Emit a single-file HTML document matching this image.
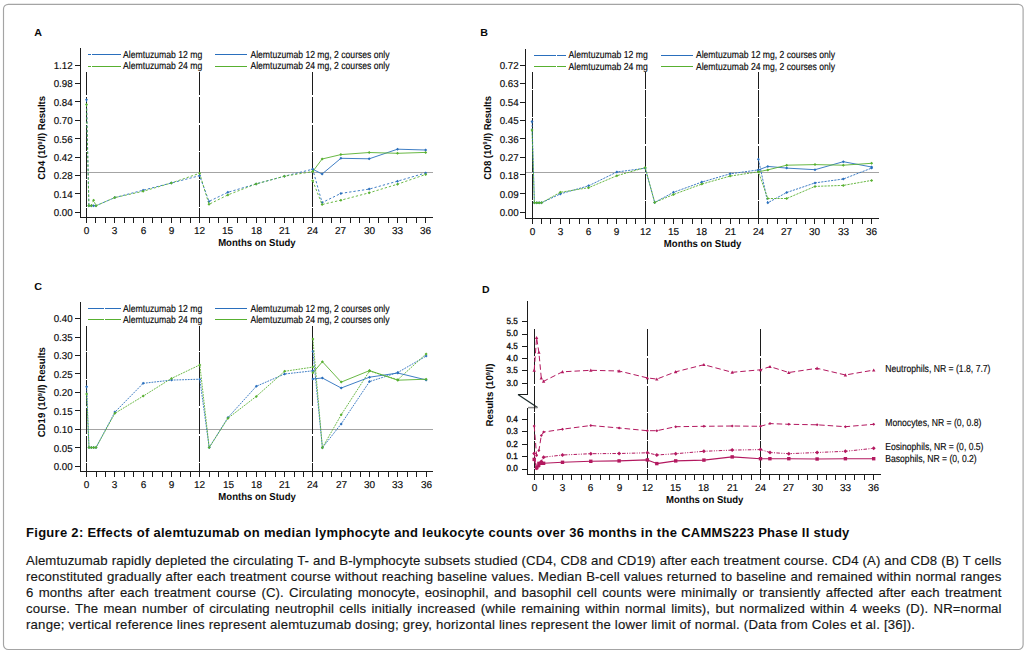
<!DOCTYPE html>
<html><head><meta charset="utf-8"><title>Figure 2</title>
<style>
html,body{margin:0;padding:0;background:#fff;}
body{width:1028px;height:652px;position:relative;overflow:hidden;font-family:"Liberation Sans",sans-serif;}
svg{position:absolute;left:0;top:0;}
#title{position:absolute;left:26px;top:524.5px;font-size:13px;line-height:16px;font-weight:bold;color:#0a0a0a;white-space:nowrap;letter-spacing:0.29px;}
#cap{position:absolute;left:26px;top:552.8px;-webkit-text-stroke:0.15px #161616;width:975.5px;font-size:13.2px;line-height:16.05px;color:#161616;}
#cap .l{text-align:justify;text-align-last:justify;height:16.05px;letter-spacing:0.1px;}
#cap .last{text-align-last:left;letter-spacing:0.19px;white-space:nowrap;}
</style></head><body>
<svg width="1028" height="652" viewBox="0 0 1028 652" text-rendering="geometricPrecision">
<style>text{stroke:#0a0a0a;stroke-width:0.16px;}text[font-weight="bold"]{stroke:none;}</style>
<rect x="3.5" y="4.3" width="1019.6" height="645.2" rx="4.8" ry="4.8" fill="none" stroke="#a4a4a4" stroke-width="1.15"/>
<g transform="translate(0,0)">
<text transform="translate(34.2,36) scale(1.05,1)" font-family="Liberation Sans, sans-serif" font-weight="bold" font-size="10.2" fill="#0a0a0a">A</text>
<path d="M80.5 48 V217.5 H433" fill="none" stroke="#1c1c1c" stroke-width="1" shape-rendering="crispEdges"/>
<path d="M75.0 212.5 H80.0 " stroke="#1c1c1c" stroke-width="1" shape-rendering="crispEdges"/>
<text x="72.7" y="216" text-anchor="end" font-family="Liberation Sans, sans-serif" font-size="10" textLength="19.0" lengthAdjust="spacingAndGlyphs" fill="#0a0a0a">0.00</text>
<path d="M75.0 193.5 H80.0 " stroke="#1c1c1c" stroke-width="1" shape-rendering="crispEdges"/>
<text x="72.7" y="198" text-anchor="end" font-family="Liberation Sans, sans-serif" font-size="10" textLength="19.0" lengthAdjust="spacingAndGlyphs" fill="#0a0a0a">0.14</text>
<path d="M75.0 175.5 H80.0 " stroke="#1c1c1c" stroke-width="1" shape-rendering="crispEdges"/>
<text x="72.7" y="179" text-anchor="end" font-family="Liberation Sans, sans-serif" font-size="10" textLength="19.0" lengthAdjust="spacingAndGlyphs" fill="#0a0a0a">0.28</text>
<path d="M75.0 157.5 H80.0 " stroke="#1c1c1c" stroke-width="1" shape-rendering="crispEdges"/>
<text x="72.7" y="161" text-anchor="end" font-family="Liberation Sans, sans-serif" font-size="10" textLength="19.0" lengthAdjust="spacingAndGlyphs" fill="#0a0a0a">0.42</text>
<path d="M75.0 138.5 H80.0 " stroke="#1c1c1c" stroke-width="1" shape-rendering="crispEdges"/>
<text x="72.7" y="143" text-anchor="end" font-family="Liberation Sans, sans-serif" font-size="10" textLength="19.0" lengthAdjust="spacingAndGlyphs" fill="#0a0a0a">0.56</text>
<path d="M75.0 120.5 H80.0 " stroke="#1c1c1c" stroke-width="1" shape-rendering="crispEdges"/>
<text x="72.7" y="124" text-anchor="end" font-family="Liberation Sans, sans-serif" font-size="10" textLength="19.0" lengthAdjust="spacingAndGlyphs" fill="#0a0a0a">0.70</text>
<path d="M75.0 101.5 H80.0 " stroke="#1c1c1c" stroke-width="1" shape-rendering="crispEdges"/>
<text x="72.7" y="106" text-anchor="end" font-family="Liberation Sans, sans-serif" font-size="10" textLength="19.0" lengthAdjust="spacingAndGlyphs" fill="#0a0a0a">0.84</text>
<path d="M75.0 83.5 H80.0 " stroke="#1c1c1c" stroke-width="1" shape-rendering="crispEdges"/>
<text x="72.7" y="87" text-anchor="end" font-family="Liberation Sans, sans-serif" font-size="10" textLength="19.0" lengthAdjust="spacingAndGlyphs" fill="#0a0a0a">0.98</text>
<path d="M75.0 65.5 H80.0 " stroke="#1c1c1c" stroke-width="1" shape-rendering="crispEdges"/>
<text x="72.7" y="69" text-anchor="end" font-family="Liberation Sans, sans-serif" font-size="10" textLength="19.0" lengthAdjust="spacingAndGlyphs" fill="#0a0a0a">1.12</text>
<path d="M86.5 218.0 V223.0" stroke="#1c1c1c" stroke-width="1" shape-rendering="crispEdges"/>
<text x="86.6" y="234" text-anchor="middle" font-family="Liberation Sans, sans-serif" font-size="10" fill="#0a0a0a">0</text>
<path d="M95.5 218.0 V223.0" stroke="#1c1c1c" stroke-width="1" shape-rendering="crispEdges"/>
<path d="M105.5 218.0 V223.0" stroke="#1c1c1c" stroke-width="1" shape-rendering="crispEdges"/>
<path d="M114.5 218.0 V223.0" stroke="#1c1c1c" stroke-width="1" shape-rendering="crispEdges"/>
<text x="114.6" y="234" text-anchor="middle" font-family="Liberation Sans, sans-serif" font-size="10" fill="#0a0a0a">3</text>
<path d="M124.5 218.0 V223.0" stroke="#1c1c1c" stroke-width="1" shape-rendering="crispEdges"/>
<path d="M133.5 218.0 V223.0" stroke="#1c1c1c" stroke-width="1" shape-rendering="crispEdges"/>
<path d="M143.5 218.0 V223.0" stroke="#1c1c1c" stroke-width="1" shape-rendering="crispEdges"/>
<text x="143.6" y="234" text-anchor="middle" font-family="Liberation Sans, sans-serif" font-size="10" fill="#0a0a0a">6</text>
<path d="M152.5 218.0 V223.0" stroke="#1c1c1c" stroke-width="1" shape-rendering="crispEdges"/>
<path d="M161.5 218.0 V223.0" stroke="#1c1c1c" stroke-width="1" shape-rendering="crispEdges"/>
<path d="M171.5 218.0 V223.0" stroke="#1c1c1c" stroke-width="1" shape-rendering="crispEdges"/>
<text x="171.6" y="234" text-anchor="middle" font-family="Liberation Sans, sans-serif" font-size="10" fill="#0a0a0a">9</text>
<path d="M180.5 218.0 V223.0" stroke="#1c1c1c" stroke-width="1" shape-rendering="crispEdges"/>
<path d="M190.5 218.0 V223.0" stroke="#1c1c1c" stroke-width="1" shape-rendering="crispEdges"/>
<path d="M199.5 218.0 V223.0" stroke="#1c1c1c" stroke-width="1" shape-rendering="crispEdges"/>
<text x="199.6" y="234" text-anchor="middle" font-family="Liberation Sans, sans-serif" font-size="10" fill="#0a0a0a">12</text>
<path d="M209.5 218.0 V223.0" stroke="#1c1c1c" stroke-width="1" shape-rendering="crispEdges"/>
<path d="M218.5 218.0 V223.0" stroke="#1c1c1c" stroke-width="1" shape-rendering="crispEdges"/>
<path d="M227.5 218.0 V223.0" stroke="#1c1c1c" stroke-width="1" shape-rendering="crispEdges"/>
<text x="227.6" y="234" text-anchor="middle" font-family="Liberation Sans, sans-serif" font-size="10" fill="#0a0a0a">15</text>
<path d="M237.5 218.0 V223.0" stroke="#1c1c1c" stroke-width="1" shape-rendering="crispEdges"/>
<path d="M246.5 218.0 V223.0" stroke="#1c1c1c" stroke-width="1" shape-rendering="crispEdges"/>
<path d="M256.5 218.0 V223.0" stroke="#1c1c1c" stroke-width="1" shape-rendering="crispEdges"/>
<text x="256.6" y="234" text-anchor="middle" font-family="Liberation Sans, sans-serif" font-size="10" fill="#0a0a0a">18</text>
<path d="M265.5 218.0 V223.0" stroke="#1c1c1c" stroke-width="1" shape-rendering="crispEdges"/>
<path d="M274.5 218.0 V223.0" stroke="#1c1c1c" stroke-width="1" shape-rendering="crispEdges"/>
<path d="M284.5 218.0 V223.0" stroke="#1c1c1c" stroke-width="1" shape-rendering="crispEdges"/>
<text x="284.6" y="234" text-anchor="middle" font-family="Liberation Sans, sans-serif" font-size="10" fill="#0a0a0a">21</text>
<path d="M293.5 218.0 V223.0" stroke="#1c1c1c" stroke-width="1" shape-rendering="crispEdges"/>
<path d="M303.5 218.0 V223.0" stroke="#1c1c1c" stroke-width="1" shape-rendering="crispEdges"/>
<path d="M312.5 218.0 V223.0" stroke="#1c1c1c" stroke-width="1" shape-rendering="crispEdges"/>
<text x="312.6" y="234" text-anchor="middle" font-family="Liberation Sans, sans-serif" font-size="10" fill="#0a0a0a">24</text>
<path d="M322.5 218.0 V223.0" stroke="#1c1c1c" stroke-width="1" shape-rendering="crispEdges"/>
<path d="M331.5 218.0 V223.0" stroke="#1c1c1c" stroke-width="1" shape-rendering="crispEdges"/>
<path d="M340.5 218.0 V223.0" stroke="#1c1c1c" stroke-width="1" shape-rendering="crispEdges"/>
<text x="340.6" y="234" text-anchor="middle" font-family="Liberation Sans, sans-serif" font-size="10" fill="#0a0a0a">27</text>
<path d="M350.5 218.0 V223.0" stroke="#1c1c1c" stroke-width="1" shape-rendering="crispEdges"/>
<path d="M359.5 218.0 V223.0" stroke="#1c1c1c" stroke-width="1" shape-rendering="crispEdges"/>
<path d="M369.5 218.0 V223.0" stroke="#1c1c1c" stroke-width="1" shape-rendering="crispEdges"/>
<text x="369.6" y="234" text-anchor="middle" font-family="Liberation Sans, sans-serif" font-size="10" fill="#0a0a0a">30</text>
<path d="M378.5 218.0 V223.0" stroke="#1c1c1c" stroke-width="1" shape-rendering="crispEdges"/>
<path d="M388.5 218.0 V223.0" stroke="#1c1c1c" stroke-width="1" shape-rendering="crispEdges"/>
<path d="M397.5 218.0 V223.0" stroke="#1c1c1c" stroke-width="1" shape-rendering="crispEdges"/>
<text x="397.6" y="234" text-anchor="middle" font-family="Liberation Sans, sans-serif" font-size="10" fill="#0a0a0a">33</text>
<path d="M406.5 218.0 V223.0" stroke="#1c1c1c" stroke-width="1" shape-rendering="crispEdges"/>
<path d="M416.5 218.0 V223.0" stroke="#1c1c1c" stroke-width="1" shape-rendering="crispEdges"/>
<path d="M425.5 218.0 V223.0" stroke="#1c1c1c" stroke-width="1" shape-rendering="crispEdges"/>
<text x="425.6" y="234" text-anchor="middle" font-family="Liberation Sans, sans-serif" font-size="10" fill="#0a0a0a">36</text>
<text x="256.9" y="246" text-anchor="middle" font-family="Liberation Sans, sans-serif" font-weight="bold" font-size="10.2" textLength="77.5" lengthAdjust="spacingAndGlyphs" fill="#0a0a0a">Months on Study</text>
<text transform="translate(45.4,137.9) rotate(-90) scale(0.9493,1)" text-anchor="middle" font-family="Liberation Sans, sans-serif" font-weight="bold" font-size="10" fill="#0a0a0a">CD4 (10<tspan font-size="5.8" dy="-3.5">9</tspan><tspan dy="3.5">/l) Results</tspan></text>
<path d="M81.0 172.5 H433" stroke="#a4a4a4" stroke-width="1" shape-rendering="crispEdges"/>
<path d="M86.5 72 V217.5" stroke="#1c1c1c" stroke-width="1" stroke-dasharray="26.4 1.4" stroke-dashoffset="3.0" shape-rendering="crispEdges"/>
<path d="M199.5 72 V217.5" stroke="#1c1c1c" stroke-width="1" stroke-dasharray="26.4 1.4" stroke-dashoffset="3.0" shape-rendering="crispEdges"/>
<path d="M312.5 72 V217.5" stroke="#1c1c1c" stroke-width="1" stroke-dasharray="26.4 1.4" stroke-dashoffset="3.0" shape-rendering="crispEdges"/>
<polyline points="86.5,99.7 88.9,205.7 91.3,205.7 93.6,205.7 96.0,205.7 114.8,197.6 143.1,190.2 171.3,183.0 199.6,175.7 209.0,201.4 227.9,192.3 256.1,183.9 284.4,176.2 312.7,169.2 322.1,202.6 340.9,193.4 369.2,189.1 397.5,181.2 425.7,172.9" fill="none" stroke="#2a6fbd" stroke-width="0.9" stroke-dasharray="2.3 2.0" stroke-linejoin="round"/><path d="M86.5 98.2 L88.0 99.7 L86.5 101.2 L85.0 99.7Z" fill="#2a6fbd"/><path d="M88.9 204.2 L90.4 205.7 L88.9 207.2 L87.4 205.7Z" fill="#2a6fbd"/><path d="M91.3 204.2 L92.8 205.7 L91.3 207.2 L89.8 205.7Z" fill="#2a6fbd"/><path d="M93.6 204.2 L95.1 205.7 L93.6 207.2 L92.1 205.7Z" fill="#2a6fbd"/><path d="M96.0 204.2 L97.5 205.7 L96.0 207.2 L94.5 205.7Z" fill="#2a6fbd"/><path d="M114.8 196.1 L116.3 197.6 L114.8 199.1 L113.3 197.6Z" fill="#2a6fbd"/><path d="M143.1 188.7 L144.6 190.2 L143.1 191.7 L141.6 190.2Z" fill="#2a6fbd"/><path d="M171.3 181.5 L172.8 183.0 L171.3 184.5 L169.8 183.0Z" fill="#2a6fbd"/><path d="M199.6 174.2 L201.1 175.7 L199.6 177.2 L198.1 175.7Z" fill="#2a6fbd"/><path d="M209.0 199.9 L210.5 201.4 L209.0 202.9 L207.5 201.4Z" fill="#2a6fbd"/><path d="M227.9 190.8 L229.4 192.3 L227.9 193.8 L226.4 192.3Z" fill="#2a6fbd"/><path d="M256.1 182.4 L257.6 183.9 L256.1 185.4 L254.6 183.9Z" fill="#2a6fbd"/><path d="M284.4 174.7 L285.9 176.2 L284.4 177.7 L282.9 176.2Z" fill="#2a6fbd"/><path d="M312.7 167.7 L314.2 169.2 L312.7 170.7 L311.2 169.2Z" fill="#2a6fbd"/><path d="M322.1 201.1 L323.6 202.6 L322.1 204.1 L320.6 202.6Z" fill="#2a6fbd"/><path d="M340.9 191.9 L342.4 193.4 L340.9 194.9 L339.4 193.4Z" fill="#2a6fbd"/><path d="M369.2 187.6 L370.7 189.1 L369.2 190.6 L367.7 189.1Z" fill="#2a6fbd"/><path d="M397.5 179.7 L399.0 181.2 L397.5 182.7 L396.0 181.2Z" fill="#2a6fbd"/><path d="M425.7 171.4 L427.2 172.9 L425.7 174.4 L424.2 172.9Z" fill="#2a6fbd"/>
<polyline points="86.5,104.5 88.9,205.7 91.3,205.7 93.6,200.2 96.0,205.7 114.8,197.6 143.1,191.3 171.3,183.0 199.6,173.3 209.0,204.3 227.9,194.9 256.1,183.9 284.4,176.2 312.7,171.6" fill="none" stroke="#58b030" stroke-width="0.9" stroke-dasharray="2.3 2.0" stroke-linejoin="round"/><path d="M86.5 103.0 L88.0 104.5 L86.5 106.0 L85.0 104.5Z" fill="#58b030"/><path d="M88.9 204.2 L90.4 205.7 L88.9 207.2 L87.4 205.7Z" fill="#58b030"/><path d="M91.3 204.2 L92.8 205.7 L91.3 207.2 L89.8 205.7Z" fill="#58b030"/><path d="M93.6 198.7 L95.1 200.2 L93.6 201.7 L92.1 200.2Z" fill="#58b030"/><path d="M96.0 204.2 L97.5 205.7 L96.0 207.2 L94.5 205.7Z" fill="#58b030"/><path d="M114.8 196.1 L116.3 197.6 L114.8 199.1 L113.3 197.6Z" fill="#58b030"/><path d="M143.1 189.8 L144.6 191.3 L143.1 192.8 L141.6 191.3Z" fill="#58b030"/><path d="M171.3 181.5 L172.8 183.0 L171.3 184.5 L169.8 183.0Z" fill="#58b030"/><path d="M199.6 171.8 L201.1 173.3 L199.6 174.8 L198.1 173.3Z" fill="#58b030"/><path d="M209.0 202.8 L210.5 204.3 L209.0 205.8 L207.5 204.3Z" fill="#58b030"/><path d="M227.9 193.4 L229.4 194.9 L227.9 196.4 L226.4 194.9Z" fill="#58b030"/><path d="M256.1 182.4 L257.6 183.9 L256.1 185.4 L254.6 183.9Z" fill="#58b030"/><path d="M284.4 174.7 L285.9 176.2 L284.4 177.7 L282.9 176.2Z" fill="#58b030"/><path d="M312.7 170.1 L314.2 171.6 L312.7 173.1 L311.2 171.6Z" fill="#58b030"/>
<polyline points="312.7,180.8 322.1,204.5 340.9,200.2 369.2,192.8 397.5,184.2 425.7,174.4" fill="none" stroke="#58b030" stroke-width="0.9" stroke-dasharray="2.3 2.0" stroke-linejoin="round"/><path d="M312.7 179.3 L314.2 180.8 L312.7 182.3 L311.2 180.8Z" fill="#58b030"/><path d="M322.1 203.0 L323.6 204.5 L322.1 206.0 L320.6 204.5Z" fill="#58b030"/><path d="M340.9 198.7 L342.4 200.2 L340.9 201.7 L339.4 200.2Z" fill="#58b030"/><path d="M369.2 191.3 L370.7 192.8 L369.2 194.3 L367.7 192.8Z" fill="#58b030"/><path d="M397.5 182.7 L399.0 184.2 L397.5 185.7 L396.0 184.2Z" fill="#58b030"/><path d="M425.7 172.9 L427.2 174.4 L425.7 175.9 L424.2 174.4Z" fill="#58b030"/>
<polyline points="312.7,169.2 322.1,174.0 340.9,158.3 369.2,158.8 397.5,149.2 425.7,150.0" fill="none" stroke="#2a6fbd" stroke-width="0.9" stroke-linejoin="round"/><path d="M312.7 167.7 L314.2 169.2 L312.7 170.7 L311.2 169.2Z" fill="#2a6fbd"/><path d="M322.1 172.5 L323.6 174.0 L322.1 175.5 L320.6 174.0Z" fill="#2a6fbd"/><path d="M340.9 156.8 L342.4 158.3 L340.9 159.8 L339.4 158.3Z" fill="#2a6fbd"/><path d="M369.2 157.3 L370.7 158.8 L369.2 160.3 L367.7 158.8Z" fill="#2a6fbd"/><path d="M397.5 147.7 L399.0 149.2 L397.5 150.7 L396.0 149.2Z" fill="#2a6fbd"/><path d="M425.7 148.5 L427.2 150.0 L425.7 151.5 L424.2 150.0Z" fill="#2a6fbd"/>
<polyline points="312.7,171.6 322.1,159.0 340.9,154.6 369.2,152.5 397.5,153.3 425.7,152.4" fill="none" stroke="#58b030" stroke-width="0.9" stroke-linejoin="round"/><path d="M312.7 170.1 L314.2 171.6 L312.7 173.1 L311.2 171.6Z" fill="#58b030"/><path d="M322.1 157.5 L323.6 159.0 L322.1 160.5 L320.6 159.0Z" fill="#58b030"/><path d="M340.9 153.1 L342.4 154.6 L340.9 156.1 L339.4 154.6Z" fill="#58b030"/><path d="M369.2 151.0 L370.7 152.5 L369.2 154.0 L367.7 152.5Z" fill="#58b030"/><path d="M397.5 151.8 L399.0 153.3 L397.5 154.8 L396.0 153.3Z" fill="#58b030"/><path d="M425.7 150.9 L427.2 152.4 L425.7 153.9 L424.2 152.4Z" fill="#58b030"/>
<path d="M88 54.5 H91 M92 54.5 H121" stroke="#2a6fbd" stroke-width="1" shape-rendering="crispEdges"/>
<text x="123.1" y="58" font-family="Liberation Sans, sans-serif" font-size="10.2" textLength="79.2" lengthAdjust="spacingAndGlyphs" fill="#0a0a0a">Alemtuzumab 12 mg</text>
<path d="M215 54.5 H247" stroke="#2a6fbd" stroke-width="1" shape-rendering="crispEdges"/>
<text x="250.4" y="58" font-family="Liberation Sans, sans-serif" font-size="10.2" textLength="139.2" lengthAdjust="spacingAndGlyphs" fill="#0a0a0a">Alemtuzumab 12 mg, 2 courses only</text>
<path d="M88 66.5 H91 M92 66.5 H121" stroke="#58b030" stroke-width="1" shape-rendering="crispEdges"/>
<text x="123.1" y="69" font-family="Liberation Sans, sans-serif" font-size="10.2" textLength="79.2" lengthAdjust="spacingAndGlyphs" fill="#0a0a0a">Alemtuzumab 24 mg</text>
<path d="M215 66.5 H247" stroke="#58b030" stroke-width="1" shape-rendering="crispEdges"/>
<text x="250.4" y="69" font-family="Liberation Sans, sans-serif" font-size="10.2" textLength="139.2" lengthAdjust="spacingAndGlyphs" fill="#0a0a0a">Alemtuzumab 24 mg, 2 courses only</text>
</g>
<g transform="translate(446,0)">
<text transform="translate(34.2,36) scale(1.05,1)" font-family="Liberation Sans, sans-serif" font-weight="bold" font-size="10.2" fill="#0a0a0a">B</text>
<path d="M79.5 49 V218.5 H433" fill="none" stroke="#1c1c1c" stroke-width="1" shape-rendering="crispEdges"/>
<path d="M74.0 212.5 H79.0 " stroke="#1c1c1c" stroke-width="1" shape-rendering="crispEdges"/>
<text x="72.7" y="216" text-anchor="end" font-family="Liberation Sans, sans-serif" font-size="10" textLength="19.0" lengthAdjust="spacingAndGlyphs" fill="#0a0a0a">0.00</text>
<path d="M74.0 193.5 H79.0 " stroke="#1c1c1c" stroke-width="1" shape-rendering="crispEdges"/>
<text x="72.7" y="198" text-anchor="end" font-family="Liberation Sans, sans-serif" font-size="10" textLength="19.0" lengthAdjust="spacingAndGlyphs" fill="#0a0a0a">0.09</text>
<path d="M74.0 174.5 H79.0 " stroke="#1c1c1c" stroke-width="1" shape-rendering="crispEdges"/>
<text x="72.7" y="179" text-anchor="end" font-family="Liberation Sans, sans-serif" font-size="10" textLength="19.0" lengthAdjust="spacingAndGlyphs" fill="#0a0a0a">0.18</text>
<path d="M74.0 157.5 H79.0 " stroke="#1c1c1c" stroke-width="1" shape-rendering="crispEdges"/>
<text x="72.7" y="161" text-anchor="end" font-family="Liberation Sans, sans-serif" font-size="10" textLength="19.0" lengthAdjust="spacingAndGlyphs" fill="#0a0a0a">0.27</text>
<path d="M74.0 138.5 H79.0 " stroke="#1c1c1c" stroke-width="1" shape-rendering="crispEdges"/>
<text x="72.7" y="143" text-anchor="end" font-family="Liberation Sans, sans-serif" font-size="10" textLength="19.0" lengthAdjust="spacingAndGlyphs" fill="#0a0a0a">0.36</text>
<path d="M74.0 120.5 H79.0 " stroke="#1c1c1c" stroke-width="1" shape-rendering="crispEdges"/>
<text x="72.7" y="124" text-anchor="end" font-family="Liberation Sans, sans-serif" font-size="10" textLength="19.0" lengthAdjust="spacingAndGlyphs" fill="#0a0a0a">0.45</text>
<path d="M74.0 102.5 H79.0 " stroke="#1c1c1c" stroke-width="1" shape-rendering="crispEdges"/>
<text x="72.7" y="106" text-anchor="end" font-family="Liberation Sans, sans-serif" font-size="10" textLength="19.0" lengthAdjust="spacingAndGlyphs" fill="#0a0a0a">0.54</text>
<path d="M74.0 83.5 H79.0 " stroke="#1c1c1c" stroke-width="1" shape-rendering="crispEdges"/>
<text x="72.7" y="87" text-anchor="end" font-family="Liberation Sans, sans-serif" font-size="10" textLength="19.0" lengthAdjust="spacingAndGlyphs" fill="#0a0a0a">0.63</text>
<path d="M74.0 65.5 H79.0 " stroke="#1c1c1c" stroke-width="1" shape-rendering="crispEdges"/>
<text x="72.7" y="69" text-anchor="end" font-family="Liberation Sans, sans-serif" font-size="10" textLength="19.0" lengthAdjust="spacingAndGlyphs" fill="#0a0a0a">0.72</text>
<path d="M86.5 219.0 V224.0" stroke="#1c1c1c" stroke-width="1" shape-rendering="crispEdges"/>
<text x="86.6" y="235" text-anchor="middle" font-family="Liberation Sans, sans-serif" font-size="10" fill="#0a0a0a">0</text>
<path d="M95.5 219.0 V224.0" stroke="#1c1c1c" stroke-width="1" shape-rendering="crispEdges"/>
<path d="M104.5 219.0 V224.0" stroke="#1c1c1c" stroke-width="1" shape-rendering="crispEdges"/>
<path d="M114.5 219.0 V224.0" stroke="#1c1c1c" stroke-width="1" shape-rendering="crispEdges"/>
<text x="114.6" y="235" text-anchor="middle" font-family="Liberation Sans, sans-serif" font-size="10" fill="#0a0a0a">3</text>
<path d="M123.5 219.0 V224.0" stroke="#1c1c1c" stroke-width="1" shape-rendering="crispEdges"/>
<path d="M133.5 219.0 V224.0" stroke="#1c1c1c" stroke-width="1" shape-rendering="crispEdges"/>
<path d="M142.5 219.0 V224.0" stroke="#1c1c1c" stroke-width="1" shape-rendering="crispEdges"/>
<text x="142.6" y="235" text-anchor="middle" font-family="Liberation Sans, sans-serif" font-size="10" fill="#0a0a0a">6</text>
<path d="M152.5 219.0 V224.0" stroke="#1c1c1c" stroke-width="1" shape-rendering="crispEdges"/>
<path d="M161.5 219.0 V224.0" stroke="#1c1c1c" stroke-width="1" shape-rendering="crispEdges"/>
<path d="M170.5 219.0 V224.0" stroke="#1c1c1c" stroke-width="1" shape-rendering="crispEdges"/>
<text x="170.6" y="235" text-anchor="middle" font-family="Liberation Sans, sans-serif" font-size="10" fill="#0a0a0a">9</text>
<path d="M180.5 219.0 V224.0" stroke="#1c1c1c" stroke-width="1" shape-rendering="crispEdges"/>
<path d="M189.5 219.0 V224.0" stroke="#1c1c1c" stroke-width="1" shape-rendering="crispEdges"/>
<path d="M199.5 219.0 V224.0" stroke="#1c1c1c" stroke-width="1" shape-rendering="crispEdges"/>
<text x="199.6" y="235" text-anchor="middle" font-family="Liberation Sans, sans-serif" font-size="10" fill="#0a0a0a">12</text>
<path d="M208.5 219.0 V224.0" stroke="#1c1c1c" stroke-width="1" shape-rendering="crispEdges"/>
<path d="M218.5 219.0 V224.0" stroke="#1c1c1c" stroke-width="1" shape-rendering="crispEdges"/>
<path d="M227.5 219.0 V224.0" stroke="#1c1c1c" stroke-width="1" shape-rendering="crispEdges"/>
<text x="227.6" y="235" text-anchor="middle" font-family="Liberation Sans, sans-serif" font-size="10" fill="#0a0a0a">15</text>
<path d="M236.5 219.0 V224.0" stroke="#1c1c1c" stroke-width="1" shape-rendering="crispEdges"/>
<path d="M246.5 219.0 V224.0" stroke="#1c1c1c" stroke-width="1" shape-rendering="crispEdges"/>
<path d="M255.5 219.0 V224.0" stroke="#1c1c1c" stroke-width="1" shape-rendering="crispEdges"/>
<text x="255.6" y="235" text-anchor="middle" font-family="Liberation Sans, sans-serif" font-size="10" fill="#0a0a0a">18</text>
<path d="M265.5 219.0 V224.0" stroke="#1c1c1c" stroke-width="1" shape-rendering="crispEdges"/>
<path d="M274.5 219.0 V224.0" stroke="#1c1c1c" stroke-width="1" shape-rendering="crispEdges"/>
<path d="M284.5 219.0 V224.0" stroke="#1c1c1c" stroke-width="1" shape-rendering="crispEdges"/>
<text x="284.6" y="235" text-anchor="middle" font-family="Liberation Sans, sans-serif" font-size="10" fill="#0a0a0a">21</text>
<path d="M293.5 219.0 V224.0" stroke="#1c1c1c" stroke-width="1" shape-rendering="crispEdges"/>
<path d="M302.5 219.0 V224.0" stroke="#1c1c1c" stroke-width="1" shape-rendering="crispEdges"/>
<path d="M312.5 219.0 V224.0" stroke="#1c1c1c" stroke-width="1" shape-rendering="crispEdges"/>
<text x="312.6" y="235" text-anchor="middle" font-family="Liberation Sans, sans-serif" font-size="10" fill="#0a0a0a">24</text>
<path d="M321.5 219.0 V224.0" stroke="#1c1c1c" stroke-width="1" shape-rendering="crispEdges"/>
<path d="M331.5 219.0 V224.0" stroke="#1c1c1c" stroke-width="1" shape-rendering="crispEdges"/>
<path d="M340.5 219.0 V224.0" stroke="#1c1c1c" stroke-width="1" shape-rendering="crispEdges"/>
<text x="340.6" y="235" text-anchor="middle" font-family="Liberation Sans, sans-serif" font-size="10" fill="#0a0a0a">27</text>
<path d="M350.5 219.0 V224.0" stroke="#1c1c1c" stroke-width="1" shape-rendering="crispEdges"/>
<path d="M359.5 219.0 V224.0" stroke="#1c1c1c" stroke-width="1" shape-rendering="crispEdges"/>
<path d="M368.5 219.0 V224.0" stroke="#1c1c1c" stroke-width="1" shape-rendering="crispEdges"/>
<text x="368.6" y="235" text-anchor="middle" font-family="Liberation Sans, sans-serif" font-size="10" fill="#0a0a0a">30</text>
<path d="M378.5 219.0 V224.0" stroke="#1c1c1c" stroke-width="1" shape-rendering="crispEdges"/>
<path d="M387.5 219.0 V224.0" stroke="#1c1c1c" stroke-width="1" shape-rendering="crispEdges"/>
<path d="M397.5 219.0 V224.0" stroke="#1c1c1c" stroke-width="1" shape-rendering="crispEdges"/>
<text x="397.6" y="235" text-anchor="middle" font-family="Liberation Sans, sans-serif" font-size="10" fill="#0a0a0a">33</text>
<path d="M406.5 219.0 V224.0" stroke="#1c1c1c" stroke-width="1" shape-rendering="crispEdges"/>
<path d="M416.5 219.0 V224.0" stroke="#1c1c1c" stroke-width="1" shape-rendering="crispEdges"/>
<path d="M425.5 219.0 V224.0" stroke="#1c1c1c" stroke-width="1" shape-rendering="crispEdges"/>
<text x="425.6" y="235" text-anchor="middle" font-family="Liberation Sans, sans-serif" font-size="10" fill="#0a0a0a">36</text>
<text x="256.6" y="247" text-anchor="middle" font-family="Liberation Sans, sans-serif" font-weight="bold" font-size="10.2" textLength="77.5" lengthAdjust="spacingAndGlyphs" fill="#0a0a0a">Months on Study</text>
<text transform="translate(44.8,137.9) rotate(-90) scale(0.9493,1)" text-anchor="middle" font-family="Liberation Sans, sans-serif" font-weight="bold" font-size="10" fill="#0a0a0a">CD8 (10<tspan font-size="5.8" dy="-3.5">9</tspan><tspan dy="3.5">/l) Results</tspan></text>
<path d="M80.0 172.5 H433" stroke="#a4a4a4" stroke-width="1" shape-rendering="crispEdges"/>
<path d="M86.5 72 V218.5" stroke="#1c1c1c" stroke-width="1" stroke-dasharray="26.4 1.4" stroke-dashoffset="9.6" shape-rendering="crispEdges"/>
<path d="M199.5 72 V218.5" stroke="#1c1c1c" stroke-width="1" stroke-dasharray="26.4 1.4" stroke-dashoffset="9.6" shape-rendering="crispEdges"/>
<path d="M312.5 72 V218.5" stroke="#1c1c1c" stroke-width="1" stroke-dasharray="26.4 1.4" stroke-dashoffset="9.6" shape-rendering="crispEdges"/>
<polyline points="86.0,121.5 88.4,202.8 90.8,202.8 93.1,202.8 95.5,202.8 114.3,193.9 142.6,185.8 170.9,172.0 199.2,168.2 208.7,202.4 227.5,192.3 255.8,182.1 284.1,173.8 312.4,169.9" fill="none" stroke="#2a6fbd" stroke-width="0.9" stroke-dasharray="2.2 1.1" stroke-linejoin="round"/><path d="M86.0 120.0 L87.5 121.5 L86.0 123.0 L84.5 121.5Z" fill="#2a6fbd"/><path d="M88.4 201.3 L89.9 202.8 L88.4 204.3 L86.9 202.8Z" fill="#2a6fbd"/><path d="M90.8 201.3 L92.3 202.8 L90.8 204.3 L89.3 202.8Z" fill="#2a6fbd"/><path d="M93.1 201.3 L94.6 202.8 L93.1 204.3 L91.6 202.8Z" fill="#2a6fbd"/><path d="M95.5 201.3 L97.0 202.8 L95.5 204.3 L94.0 202.8Z" fill="#2a6fbd"/><path d="M114.3 192.4 L115.8 193.9 L114.3 195.4 L112.8 193.9Z" fill="#2a6fbd"/><path d="M142.6 184.3 L144.1 185.8 L142.6 187.3 L141.1 185.8Z" fill="#2a6fbd"/><path d="M170.9 170.5 L172.4 172.0 L170.9 173.5 L169.4 172.0Z" fill="#2a6fbd"/><path d="M199.2 166.7 L200.7 168.2 L199.2 169.7 L197.7 168.2Z" fill="#2a6fbd"/><path d="M208.7 200.9 L210.2 202.4 L208.7 203.9 L207.2 202.4Z" fill="#2a6fbd"/><path d="M227.5 190.8 L229.0 192.3 L227.5 193.8 L226.0 192.3Z" fill="#2a6fbd"/><path d="M255.8 180.6 L257.3 182.1 L255.8 183.6 L254.3 182.1Z" fill="#2a6fbd"/><path d="M284.1 172.3 L285.6 173.8 L284.1 175.3 L282.6 173.8Z" fill="#2a6fbd"/><path d="M312.4 168.4 L313.9 169.9 L312.4 171.4 L310.9 169.9Z" fill="#2a6fbd"/>
<polyline points="312.4,159.2 321.8,202.8 340.7,192.5 369.0,182.9 397.3,179.0 425.6,168.1" fill="none" stroke="#2a6fbd" stroke-width="0.9" stroke-dasharray="2.2 1.1" stroke-linejoin="round"/><path d="M312.4 157.7 L313.9 159.2 L312.4 160.7 L310.9 159.2Z" fill="#2a6fbd"/><path d="M321.8 201.3 L323.3 202.8 L321.8 204.3 L320.3 202.8Z" fill="#2a6fbd"/><path d="M340.7 191.0 L342.2 192.5 L340.7 194.0 L339.2 192.5Z" fill="#2a6fbd"/><path d="M369.0 181.4 L370.5 182.9 L369.0 184.4 L367.5 182.9Z" fill="#2a6fbd"/><path d="M397.3 177.5 L398.8 179.0 L397.3 180.5 L395.8 179.0Z" fill="#2a6fbd"/><path d="M425.6 166.6 L427.1 168.1 L425.6 169.6 L424.1 168.1Z" fill="#2a6fbd"/>
<polyline points="86.0,130.0 88.4,202.8 90.8,202.8 93.1,202.8 95.5,202.8 114.3,192.3 142.6,187.7 170.9,175.7 199.2,167.6 208.7,202.4 227.5,194.5 255.8,184.1 284.1,176.1 312.4,171.8 321.8,198.5 340.7,198.5 369.0,186.4 397.3,185.4 425.6,180.4" fill="none" stroke="#58b030" stroke-width="0.9" stroke-dasharray="2.2 1.1" stroke-linejoin="round"/><path d="M86.0 128.5 L87.5 130.0 L86.0 131.5 L84.5 130.0Z" fill="#58b030"/><path d="M88.4 201.3 L89.9 202.8 L88.4 204.3 L86.9 202.8Z" fill="#58b030"/><path d="M90.8 201.3 L92.3 202.8 L90.8 204.3 L89.3 202.8Z" fill="#58b030"/><path d="M93.1 201.3 L94.6 202.8 L93.1 204.3 L91.6 202.8Z" fill="#58b030"/><path d="M95.5 201.3 L97.0 202.8 L95.5 204.3 L94.0 202.8Z" fill="#58b030"/><path d="M114.3 190.8 L115.8 192.3 L114.3 193.8 L112.8 192.3Z" fill="#58b030"/><path d="M142.6 186.2 L144.1 187.7 L142.6 189.2 L141.1 187.7Z" fill="#58b030"/><path d="M170.9 174.2 L172.4 175.7 L170.9 177.2 L169.4 175.7Z" fill="#58b030"/><path d="M199.2 166.1 L200.7 167.6 L199.2 169.1 L197.7 167.6Z" fill="#58b030"/><path d="M208.7 200.9 L210.2 202.4 L208.7 203.9 L207.2 202.4Z" fill="#58b030"/><path d="M227.5 193.0 L229.0 194.5 L227.5 196.0 L226.0 194.5Z" fill="#58b030"/><path d="M255.8 182.6 L257.3 184.1 L255.8 185.6 L254.3 184.1Z" fill="#58b030"/><path d="M284.1 174.6 L285.6 176.1 L284.1 177.6 L282.6 176.1Z" fill="#58b030"/><path d="M312.4 170.3 L313.9 171.8 L312.4 173.3 L310.9 171.8Z" fill="#58b030"/><path d="M321.8 197.0 L323.3 198.5 L321.8 200.0 L320.3 198.5Z" fill="#58b030"/><path d="M340.7 197.0 L342.2 198.5 L340.7 200.0 L339.2 198.5Z" fill="#58b030"/><path d="M369.0 184.9 L370.5 186.4 L369.0 187.9 L367.5 186.4Z" fill="#58b030"/><path d="M397.3 183.9 L398.8 185.4 L397.3 186.9 L395.8 185.4Z" fill="#58b030"/><path d="M425.6 178.9 L427.1 180.4 L425.6 181.9 L424.1 180.4Z" fill="#58b030"/>
<polyline points="312.4,169.9 321.8,166.4 340.7,168.1 369.0,169.7 397.3,161.7 425.6,167.0" fill="none" stroke="#2a6fbd" stroke-width="0.9" stroke-linejoin="round"/><path d="M312.4 168.4 L313.9 169.9 L312.4 171.4 L310.9 169.9Z" fill="#2a6fbd"/><path d="M321.8 164.9 L323.3 166.4 L321.8 167.9 L320.3 166.4Z" fill="#2a6fbd"/><path d="M340.7 166.6 L342.2 168.1 L340.7 169.6 L339.2 168.1Z" fill="#2a6fbd"/><path d="M369.0 168.2 L370.5 169.7 L369.0 171.2 L367.5 169.7Z" fill="#2a6fbd"/><path d="M397.3 160.2 L398.8 161.7 L397.3 163.2 L395.8 161.7Z" fill="#2a6fbd"/><path d="M425.6 165.5 L427.1 167.0 L425.6 168.5 L424.1 167.0Z" fill="#2a6fbd"/>
<polyline points="312.4,171.8 321.8,169.9 340.7,165.2 369.0,164.6 397.3,165.2 425.6,163.3" fill="none" stroke="#58b030" stroke-width="0.9" stroke-linejoin="round"/><path d="M312.4 170.3 L313.9 171.8 L312.4 173.3 L310.9 171.8Z" fill="#58b030"/><path d="M321.8 168.4 L323.3 169.9 L321.8 171.4 L320.3 169.9Z" fill="#58b030"/><path d="M340.7 163.7 L342.2 165.2 L340.7 166.7 L339.2 165.2Z" fill="#58b030"/><path d="M369.0 163.1 L370.5 164.6 L369.0 166.1 L367.5 164.6Z" fill="#58b030"/><path d="M397.3 163.7 L398.8 165.2 L397.3 166.7 L395.8 165.2Z" fill="#58b030"/><path d="M425.6 161.8 L427.1 163.3 L425.6 164.8 L424.1 163.3Z" fill="#58b030"/>
<path d="M88 55.5 H110 M111 55.5 H120" stroke="#2a6fbd" stroke-width="1" shape-rendering="crispEdges"/>
<text x="122.6" y="58" font-family="Liberation Sans, sans-serif" font-size="10.2" textLength="79.2" lengthAdjust="spacingAndGlyphs" fill="#0a0a0a">Alemtuzumab 12 mg</text>
<path d="M214.5 55.5 H246.5" stroke="#2a6fbd" stroke-width="1" shape-rendering="crispEdges"/>
<text x="249.9" y="58" font-family="Liberation Sans, sans-serif" font-size="10.2" textLength="139.2" lengthAdjust="spacingAndGlyphs" fill="#0a0a0a">Alemtuzumab 12 mg, 2 courses only</text>
<path d="M88 66.5 H110 M111 66.5 H120" stroke="#58b030" stroke-width="1" shape-rendering="crispEdges"/>
<text x="122.6" y="70" font-family="Liberation Sans, sans-serif" font-size="10.2" textLength="79.2" lengthAdjust="spacingAndGlyphs" fill="#0a0a0a">Alemtuzumab 24 mg</text>
<path d="M214.5 66.5 H246.5" stroke="#58b030" stroke-width="1" shape-rendering="crispEdges"/>
<text x="249.9" y="70" font-family="Liberation Sans, sans-serif" font-size="10.2" textLength="139.2" lengthAdjust="spacingAndGlyphs" fill="#0a0a0a">Alemtuzumab 24 mg, 2 courses only</text>
</g>
<g transform="translate(0,254)">
<text transform="translate(34.2,36) scale(1.05,1)" font-family="Liberation Sans, sans-serif" font-weight="bold" font-size="10.2" fill="#0a0a0a">C</text>
<path d="M80.5 48 V217.5 H433" fill="none" stroke="#1c1c1c" stroke-width="1" shape-rendering="crispEdges"/>
<path d="M75.0 212.5 H80.0 " stroke="#1c1c1c" stroke-width="1" shape-rendering="crispEdges"/>
<text x="72.7" y="216" text-anchor="end" font-family="Liberation Sans, sans-serif" font-size="10" textLength="19.0" lengthAdjust="spacingAndGlyphs" fill="#0a0a0a">0.00</text>
<path d="M75.0 193.5 H80.0 " stroke="#1c1c1c" stroke-width="1" shape-rendering="crispEdges"/>
<text x="72.7" y="198" text-anchor="end" font-family="Liberation Sans, sans-serif" font-size="10" textLength="19.0" lengthAdjust="spacingAndGlyphs" fill="#0a0a0a">0.05</text>
<path d="M75.0 175.5 H80.0 " stroke="#1c1c1c" stroke-width="1" shape-rendering="crispEdges"/>
<text x="72.7" y="179" text-anchor="end" font-family="Liberation Sans, sans-serif" font-size="10" textLength="19.0" lengthAdjust="spacingAndGlyphs" fill="#0a0a0a">0.10</text>
<path d="M75.0 156.5 H80.0 " stroke="#1c1c1c" stroke-width="1" shape-rendering="crispEdges"/>
<text x="72.7" y="161" text-anchor="end" font-family="Liberation Sans, sans-serif" font-size="10" textLength="19.0" lengthAdjust="spacingAndGlyphs" fill="#0a0a0a">0.15</text>
<path d="M75.0 138.5 H80.0 " stroke="#1c1c1c" stroke-width="1" shape-rendering="crispEdges"/>
<text x="72.7" y="142" text-anchor="end" font-family="Liberation Sans, sans-serif" font-size="10" textLength="19.0" lengthAdjust="spacingAndGlyphs" fill="#0a0a0a">0.20</text>
<path d="M75.0 119.5 H80.0 " stroke="#1c1c1c" stroke-width="1" shape-rendering="crispEdges"/>
<text x="72.7" y="124" text-anchor="end" font-family="Liberation Sans, sans-serif" font-size="10" textLength="19.0" lengthAdjust="spacingAndGlyphs" fill="#0a0a0a">0.25</text>
<path d="M75.0 101.5 H80.0 " stroke="#1c1c1c" stroke-width="1" shape-rendering="crispEdges"/>
<text x="72.7" y="105" text-anchor="end" font-family="Liberation Sans, sans-serif" font-size="10" textLength="19.0" lengthAdjust="spacingAndGlyphs" fill="#0a0a0a">0.30</text>
<path d="M75.0 83.5 H80.0 " stroke="#1c1c1c" stroke-width="1" shape-rendering="crispEdges"/>
<text x="72.7" y="87" text-anchor="end" font-family="Liberation Sans, sans-serif" font-size="10" textLength="19.0" lengthAdjust="spacingAndGlyphs" fill="#0a0a0a">0.35</text>
<path d="M75.0 64.5 H80.0 " stroke="#1c1c1c" stroke-width="1" shape-rendering="crispEdges"/>
<text x="72.7" y="68" text-anchor="end" font-family="Liberation Sans, sans-serif" font-size="10" textLength="19.0" lengthAdjust="spacingAndGlyphs" fill="#0a0a0a">0.40</text>
<path d="M86.5 218.0 V223.0" stroke="#1c1c1c" stroke-width="1" shape-rendering="crispEdges"/>
<text x="86.6" y="234" text-anchor="middle" font-family="Liberation Sans, sans-serif" font-size="10" fill="#0a0a0a">0</text>
<path d="M96.5 218.0 V223.0" stroke="#1c1c1c" stroke-width="1" shape-rendering="crispEdges"/>
<path d="M105.5 218.0 V223.0" stroke="#1c1c1c" stroke-width="1" shape-rendering="crispEdges"/>
<path d="M114.5 218.0 V223.0" stroke="#1c1c1c" stroke-width="1" shape-rendering="crispEdges"/>
<text x="114.6" y="234" text-anchor="middle" font-family="Liberation Sans, sans-serif" font-size="10" fill="#0a0a0a">3</text>
<path d="M124.5 218.0 V223.0" stroke="#1c1c1c" stroke-width="1" shape-rendering="crispEdges"/>
<path d="M133.5 218.0 V223.0" stroke="#1c1c1c" stroke-width="1" shape-rendering="crispEdges"/>
<path d="M143.5 218.0 V223.0" stroke="#1c1c1c" stroke-width="1" shape-rendering="crispEdges"/>
<text x="143.6" y="234" text-anchor="middle" font-family="Liberation Sans, sans-serif" font-size="10" fill="#0a0a0a">6</text>
<path d="M152.5 218.0 V223.0" stroke="#1c1c1c" stroke-width="1" shape-rendering="crispEdges"/>
<path d="M162.5 218.0 V223.0" stroke="#1c1c1c" stroke-width="1" shape-rendering="crispEdges"/>
<path d="M171.5 218.0 V223.0" stroke="#1c1c1c" stroke-width="1" shape-rendering="crispEdges"/>
<text x="171.6" y="234" text-anchor="middle" font-family="Liberation Sans, sans-serif" font-size="10" fill="#0a0a0a">9</text>
<path d="M180.5 218.0 V223.0" stroke="#1c1c1c" stroke-width="1" shape-rendering="crispEdges"/>
<path d="M190.5 218.0 V223.0" stroke="#1c1c1c" stroke-width="1" shape-rendering="crispEdges"/>
<path d="M199.5 218.0 V223.0" stroke="#1c1c1c" stroke-width="1" shape-rendering="crispEdges"/>
<text x="199.6" y="234" text-anchor="middle" font-family="Liberation Sans, sans-serif" font-size="10" fill="#0a0a0a">12</text>
<path d="M209.5 218.0 V223.0" stroke="#1c1c1c" stroke-width="1" shape-rendering="crispEdges"/>
<path d="M218.5 218.0 V223.0" stroke="#1c1c1c" stroke-width="1" shape-rendering="crispEdges"/>
<path d="M228.5 218.0 V223.0" stroke="#1c1c1c" stroke-width="1" shape-rendering="crispEdges"/>
<text x="228.6" y="234" text-anchor="middle" font-family="Liberation Sans, sans-serif" font-size="10" fill="#0a0a0a">15</text>
<path d="M237.5 218.0 V223.0" stroke="#1c1c1c" stroke-width="1" shape-rendering="crispEdges"/>
<path d="M246.5 218.0 V223.0" stroke="#1c1c1c" stroke-width="1" shape-rendering="crispEdges"/>
<path d="M256.5 218.0 V223.0" stroke="#1c1c1c" stroke-width="1" shape-rendering="crispEdges"/>
<text x="256.6" y="234" text-anchor="middle" font-family="Liberation Sans, sans-serif" font-size="10" fill="#0a0a0a">18</text>
<path d="M265.5 218.0 V223.0" stroke="#1c1c1c" stroke-width="1" shape-rendering="crispEdges"/>
<path d="M275.5 218.0 V223.0" stroke="#1c1c1c" stroke-width="1" shape-rendering="crispEdges"/>
<path d="M284.5 218.0 V223.0" stroke="#1c1c1c" stroke-width="1" shape-rendering="crispEdges"/>
<text x="284.6" y="234" text-anchor="middle" font-family="Liberation Sans, sans-serif" font-size="10" fill="#0a0a0a">21</text>
<path d="M294.5 218.0 V223.0" stroke="#1c1c1c" stroke-width="1" shape-rendering="crispEdges"/>
<path d="M303.5 218.0 V223.0" stroke="#1c1c1c" stroke-width="1" shape-rendering="crispEdges"/>
<path d="M312.5 218.0 V223.0" stroke="#1c1c1c" stroke-width="1" shape-rendering="crispEdges"/>
<text x="312.6" y="234" text-anchor="middle" font-family="Liberation Sans, sans-serif" font-size="10" fill="#0a0a0a">24</text>
<path d="M322.5 218.0 V223.0" stroke="#1c1c1c" stroke-width="1" shape-rendering="crispEdges"/>
<path d="M331.5 218.0 V223.0" stroke="#1c1c1c" stroke-width="1" shape-rendering="crispEdges"/>
<path d="M341.5 218.0 V223.0" stroke="#1c1c1c" stroke-width="1" shape-rendering="crispEdges"/>
<text x="341.6" y="234" text-anchor="middle" font-family="Liberation Sans, sans-serif" font-size="10" fill="#0a0a0a">27</text>
<path d="M350.5 218.0 V223.0" stroke="#1c1c1c" stroke-width="1" shape-rendering="crispEdges"/>
<path d="M360.5 218.0 V223.0" stroke="#1c1c1c" stroke-width="1" shape-rendering="crispEdges"/>
<path d="M369.5 218.0 V223.0" stroke="#1c1c1c" stroke-width="1" shape-rendering="crispEdges"/>
<text x="369.6" y="234" text-anchor="middle" font-family="Liberation Sans, sans-serif" font-size="10" fill="#0a0a0a">30</text>
<path d="M378.5 218.0 V223.0" stroke="#1c1c1c" stroke-width="1" shape-rendering="crispEdges"/>
<path d="M388.5 218.0 V223.0" stroke="#1c1c1c" stroke-width="1" shape-rendering="crispEdges"/>
<path d="M397.5 218.0 V223.0" stroke="#1c1c1c" stroke-width="1" shape-rendering="crispEdges"/>
<text x="397.6" y="234" text-anchor="middle" font-family="Liberation Sans, sans-serif" font-size="10" fill="#0a0a0a">33</text>
<path d="M407.5 218.0 V223.0" stroke="#1c1c1c" stroke-width="1" shape-rendering="crispEdges"/>
<path d="M416.5 218.0 V223.0" stroke="#1c1c1c" stroke-width="1" shape-rendering="crispEdges"/>
<path d="M426.5 218.0 V223.0" stroke="#1c1c1c" stroke-width="1" shape-rendering="crispEdges"/>
<text x="426.6" y="234" text-anchor="middle" font-family="Liberation Sans, sans-serif" font-size="10" fill="#0a0a0a">36</text>
<text x="257.1" y="246" text-anchor="middle" font-family="Liberation Sans, sans-serif" font-weight="bold" font-size="10.2" textLength="77.5" lengthAdjust="spacingAndGlyphs" fill="#0a0a0a">Months on Study</text>
<text transform="translate(45.4,138.2) rotate(-90) scale(0.9623,1)" text-anchor="middle" font-family="Liberation Sans, sans-serif" font-weight="bold" font-size="10" fill="#0a0a0a">CD19 (10<tspan font-size="5.8" dy="-3.5">9</tspan><tspan dy="3.5">/l) Results</tspan></text>
<path d="M81.0 175.5 H433" stroke="#a4a4a4" stroke-width="1" shape-rendering="crispEdges"/>
<path d="M86.5 72 V217.5" stroke="#1c1c1c" stroke-width="1" stroke-dasharray="26.4 1.4" stroke-dashoffset="1.7" shape-rendering="crispEdges"/>
<path d="M199.5 72 V217.5" stroke="#1c1c1c" stroke-width="1" stroke-dasharray="26.4 1.4" stroke-dashoffset="1.7" shape-rendering="crispEdges"/>
<path d="M312.5 72 V217.5" stroke="#1c1c1c" stroke-width="1" stroke-dasharray="26.4 1.4" stroke-dashoffset="1.7" shape-rendering="crispEdges"/>
<polyline points="86.6,132.8 89.0,193.6 91.3,193.6 93.7,193.6 96.0,193.6 114.9,158.1 143.2,129.3 171.5,126.1 199.8,125.2 209.2,193.6 228.0,163.5 256.3,132.3 284.6,120.0 312.9,116.8" fill="none" stroke="#2a6fbd" stroke-width="0.9" stroke-dasharray="1.8 1.0" stroke-linejoin="round"/><path d="M86.6 131.3 L88.1 132.8 L86.6 134.3 L85.1 132.8Z" fill="#2a6fbd"/><path d="M89.0 192.1 L90.5 193.6 L89.0 195.1 L87.5 193.6Z" fill="#2a6fbd"/><path d="M91.3 192.1 L92.8 193.6 L91.3 195.1 L89.8 193.6Z" fill="#2a6fbd"/><path d="M93.7 192.1 L95.2 193.6 L93.7 195.1 L92.2 193.6Z" fill="#2a6fbd"/><path d="M96.0 192.1 L97.5 193.6 L96.0 195.1 L94.5 193.6Z" fill="#2a6fbd"/><path d="M114.9 156.6 L116.4 158.1 L114.9 159.6 L113.4 158.1Z" fill="#2a6fbd"/><path d="M143.2 127.8 L144.7 129.3 L143.2 130.8 L141.7 129.3Z" fill="#2a6fbd"/><path d="M171.5 124.6 L173.0 126.1 L171.5 127.6 L170.0 126.1Z" fill="#2a6fbd"/><path d="M199.8 123.7 L201.3 125.2 L199.8 126.7 L198.3 125.2Z" fill="#2a6fbd"/><path d="M209.2 192.1 L210.7 193.6 L209.2 195.1 L207.7 193.6Z" fill="#2a6fbd"/><path d="M228.0 162.0 L229.5 163.5 L228.0 165.0 L226.5 163.5Z" fill="#2a6fbd"/><path d="M256.3 130.8 L257.8 132.3 L256.3 133.8 L254.8 132.3Z" fill="#2a6fbd"/><path d="M284.6 118.5 L286.1 120.0 L284.6 121.5 L283.1 120.0Z" fill="#2a6fbd"/><path d="M312.9 115.3 L314.4 116.8 L312.9 118.3 L311.4 116.8Z" fill="#2a6fbd"/>
<polyline points="312.9,97.2 322.4,193.7 341.2,169.9 369.5,127.6 397.8,118.5 426.1,102.1" fill="none" stroke="#2a6fbd" stroke-width="0.9" stroke-dasharray="1.8 1.0" stroke-linejoin="round"/><path d="M312.9 95.7 L314.4 97.2 L312.9 98.7 L311.4 97.2Z" fill="#2a6fbd"/><path d="M322.4 192.2 L323.9 193.7 L322.4 195.2 L320.9 193.7Z" fill="#2a6fbd"/><path d="M341.2 168.4 L342.7 169.9 L341.2 171.4 L339.7 169.9Z" fill="#2a6fbd"/><path d="M369.5 126.1 L371.0 127.6 L369.5 129.1 L368.0 127.6Z" fill="#2a6fbd"/><path d="M397.8 117.0 L399.3 118.5 L397.8 120.0 L396.3 118.5Z" fill="#2a6fbd"/><path d="M426.1 100.6 L427.6 102.1 L426.1 103.6 L424.6 102.1Z" fill="#2a6fbd"/>
<polyline points="86.6,140.1 89.0,193.6 91.3,193.6 93.7,193.6 96.0,193.6 114.9,159.3 143.2,142.1 171.5,124.4 199.8,110.9 209.2,193.6 228.0,164.2 256.3,142.4 284.6,117.3 312.9,113.1" fill="none" stroke="#58b030" stroke-width="0.9" stroke-dasharray="1.8 1.0" stroke-linejoin="round"/><path d="M86.6 138.6 L88.1 140.1 L86.6 141.6 L85.1 140.1Z" fill="#58b030"/><path d="M89.0 192.1 L90.5 193.6 L89.0 195.1 L87.5 193.6Z" fill="#58b030"/><path d="M91.3 192.1 L92.8 193.6 L91.3 195.1 L89.8 193.6Z" fill="#58b030"/><path d="M93.7 192.1 L95.2 193.6 L93.7 195.1 L92.2 193.6Z" fill="#58b030"/><path d="M96.0 192.1 L97.5 193.6 L96.0 195.1 L94.5 193.6Z" fill="#58b030"/><path d="M114.9 157.8 L116.4 159.3 L114.9 160.8 L113.4 159.3Z" fill="#58b030"/><path d="M143.2 140.6 L144.7 142.1 L143.2 143.6 L141.7 142.1Z" fill="#58b030"/><path d="M171.5 122.9 L173.0 124.4 L171.5 125.9 L170.0 124.4Z" fill="#58b030"/><path d="M199.8 109.4 L201.3 110.9 L199.8 112.4 L198.3 110.9Z" fill="#58b030"/><path d="M209.2 192.1 L210.7 193.6 L209.2 195.1 L207.7 193.6Z" fill="#58b030"/><path d="M228.0 162.7 L229.5 164.2 L228.0 165.7 L226.5 164.2Z" fill="#58b030"/><path d="M256.3 140.9 L257.8 142.4 L256.3 143.9 L254.8 142.4Z" fill="#58b030"/><path d="M284.6 115.8 L286.1 117.3 L284.6 118.8 L283.1 117.3Z" fill="#58b030"/><path d="M312.9 111.6 L314.4 113.1 L312.9 114.6 L311.4 113.1Z" fill="#58b030"/>
<polyline points="312.9,84.9 322.4,193.7 341.2,160.8 369.5,117.0 397.8,125.7 426.1,99.9" fill="none" stroke="#58b030" stroke-width="0.9" stroke-dasharray="1.8 1.0" stroke-linejoin="round"/><path d="M312.9 83.4 L314.4 84.9 L312.9 86.4 L311.4 84.9Z" fill="#58b030"/><path d="M322.4 192.2 L323.9 193.7 L322.4 195.2 L320.9 193.7Z" fill="#58b030"/><path d="M341.2 159.3 L342.7 160.8 L341.2 162.3 L339.7 160.8Z" fill="#58b030"/><path d="M369.5 115.5 L371.0 117.0 L369.5 118.5 L368.0 117.0Z" fill="#58b030"/><path d="M397.8 124.2 L399.3 125.7 L397.8 127.2 L396.3 125.7Z" fill="#58b030"/><path d="M426.1 98.4 L427.6 99.9 L426.1 101.4 L424.6 99.9Z" fill="#58b030"/>
<polyline points="312.9,124.9 322.4,124.0 341.2,134.0 369.5,123.2 397.8,119.0 426.1,125.9" fill="none" stroke="#2a6fbd" stroke-width="0.9" stroke-linejoin="round"/><path d="M312.9 123.4 L314.4 124.9 L312.9 126.4 L311.4 124.9Z" fill="#2a6fbd"/><path d="M322.4 122.5 L323.9 124.0 L322.4 125.5 L320.9 124.0Z" fill="#2a6fbd"/><path d="M341.2 132.5 L342.7 134.0 L341.2 135.5 L339.7 134.0Z" fill="#2a6fbd"/><path d="M369.5 121.7 L371.0 123.2 L369.5 124.7 L368.0 123.2Z" fill="#2a6fbd"/><path d="M397.8 117.5 L399.3 119.0 L397.8 120.5 L396.3 119.0Z" fill="#2a6fbd"/><path d="M426.1 124.4 L427.6 125.9 L426.1 127.4 L424.6 125.9Z" fill="#2a6fbd"/>
<polyline points="312.9,118.8 322.4,107.7 341.2,128.1 369.5,116.6 397.8,126.2 426.1,125.2" fill="none" stroke="#58b030" stroke-width="0.9" stroke-linejoin="round"/><path d="M312.9 117.3 L314.4 118.8 L312.9 120.3 L311.4 118.8Z" fill="#58b030"/><path d="M322.4 106.2 L323.9 107.7 L322.4 109.2 L320.9 107.7Z" fill="#58b030"/><path d="M341.2 126.6 L342.7 128.1 L341.2 129.6 L339.7 128.1Z" fill="#58b030"/><path d="M369.5 115.1 L371.0 116.6 L369.5 118.1 L368.0 116.6Z" fill="#58b030"/><path d="M397.8 124.7 L399.3 126.2 L397.8 127.7 L396.3 126.2Z" fill="#58b030"/><path d="M426.1 123.7 L427.6 125.2 L426.1 126.7 L424.6 125.2Z" fill="#58b030"/>
<path d="M88 54.5 H104 M105 54.5 H121" stroke="#2a6fbd" stroke-width="1" shape-rendering="crispEdges"/>
<text x="123.1" y="58" font-family="Liberation Sans, sans-serif" font-size="10.2" textLength="79.2" lengthAdjust="spacingAndGlyphs" fill="#0a0a0a">Alemtuzumab 12 mg</text>
<path d="M215 54.5 H247" stroke="#2a6fbd" stroke-width="1" shape-rendering="crispEdges"/>
<text x="250.4" y="58" font-family="Liberation Sans, sans-serif" font-size="10.2" textLength="139.2" lengthAdjust="spacingAndGlyphs" fill="#0a0a0a">Alemtuzumab 12 mg, 2 courses only</text>
<path d="M88 65.5 H104 M105 65.5 H121" stroke="#58b030" stroke-width="1" shape-rendering="crispEdges"/>
<text x="123.1" y="69" font-family="Liberation Sans, sans-serif" font-size="10.2" textLength="79.2" lengthAdjust="spacingAndGlyphs" fill="#0a0a0a">Alemtuzumab 24 mg</text>
<path d="M215 65.5 H247" stroke="#58b030" stroke-width="1" shape-rendering="crispEdges"/>
<text x="250.4" y="69" font-family="Liberation Sans, sans-serif" font-size="10.2" textLength="139.2" lengthAdjust="spacingAndGlyphs" fill="#0a0a0a">Alemtuzumab 24 mg, 2 courses only</text>
</g>
<text transform="translate(481.9,293) scale(1.03,1)" font-family="Liberation Sans, sans-serif" font-weight="bold" font-size="10.2" fill="#0a0a0a">D</text>
<path d="M527.5 301 V394.5 H518 M527.5 407.5 V474.5 H881" fill="none" stroke="#1c1c1c" stroke-width="1" shape-rendering="crispEdges"/>
<path d="M518 394.5 L537.5 407.5" fill="none" stroke="#1c2c2c" stroke-width="1.25"/>
<path d="M528 407.6 H537.5" stroke="#8a8a8a" stroke-width="1.5"/>
<path d="M522 383.5 H527" stroke="#1c1c1c" stroke-width="1" shape-rendering="crispEdges"/>
<text x="517.9" y="385.50" text-anchor="end" font-family="Liberation Sans, sans-serif" font-size="8.8" style="stroke-width:0.32px" textLength="11.4" lengthAdjust="spacingAndGlyphs" fill="#0a0a0a">3.0</text>
<path d="M522 370.5 H527" stroke="#1c1c1c" stroke-width="1" shape-rendering="crispEdges"/>
<text x="517.9" y="373.25" text-anchor="end" font-family="Liberation Sans, sans-serif" font-size="8.8" style="stroke-width:0.32px" textLength="11.4" lengthAdjust="spacingAndGlyphs" fill="#0a0a0a">3.5</text>
<path d="M522 358.5 H527" stroke="#1c1c1c" stroke-width="1" shape-rendering="crispEdges"/>
<text x="517.9" y="360.95" text-anchor="end" font-family="Liberation Sans, sans-serif" font-size="8.8" style="stroke-width:0.32px" textLength="11.4" lengthAdjust="spacingAndGlyphs" fill="#0a0a0a">4.0</text>
<path d="M522 346.5 H527" stroke="#1c1c1c" stroke-width="1" shape-rendering="crispEdges"/>
<text x="517.9" y="348.70" text-anchor="end" font-family="Liberation Sans, sans-serif" font-size="8.8" style="stroke-width:0.32px" textLength="11.4" lengthAdjust="spacingAndGlyphs" fill="#0a0a0a">4.5</text>
<path d="M522 334.5 H527" stroke="#1c1c1c" stroke-width="1" shape-rendering="crispEdges"/>
<text x="517.9" y="336.45" text-anchor="end" font-family="Liberation Sans, sans-serif" font-size="8.8" style="stroke-width:0.32px" textLength="11.4" lengthAdjust="spacingAndGlyphs" fill="#0a0a0a">5.0</text>
<path d="M522 321.5 H527" stroke="#1c1c1c" stroke-width="1" shape-rendering="crispEdges"/>
<text x="517.9" y="324.15" text-anchor="end" font-family="Liberation Sans, sans-serif" font-size="8.8" style="stroke-width:0.32px" textLength="11.4" lengthAdjust="spacingAndGlyphs" fill="#0a0a0a">5.5</text>
<path d="M522 469.5 H527" stroke="#1c1c1c" stroke-width="1" shape-rendering="crispEdges"/>
<text x="517.9" y="470.95" text-anchor="end" font-family="Liberation Sans, sans-serif" font-size="8.8" style="stroke-width:0.32px" textLength="11.4" lengthAdjust="spacingAndGlyphs" fill="#0a0a0a">0.0</text>
<path d="M522 456.5 H527" stroke="#1c1c1c" stroke-width="1" shape-rendering="crispEdges"/>
<text x="517.9" y="458.75" text-anchor="end" font-family="Liberation Sans, sans-serif" font-size="8.8" style="stroke-width:0.32px" textLength="11.4" lengthAdjust="spacingAndGlyphs" fill="#0a0a0a">0.1</text>
<path d="M522 444.5 H527" stroke="#1c1c1c" stroke-width="1" shape-rendering="crispEdges"/>
<text x="517.9" y="446.55" text-anchor="end" font-family="Liberation Sans, sans-serif" font-size="8.8" style="stroke-width:0.32px" textLength="11.4" lengthAdjust="spacingAndGlyphs" fill="#0a0a0a">0.2</text>
<path d="M522 431.5 H527" stroke="#1c1c1c" stroke-width="1" shape-rendering="crispEdges"/>
<text x="517.9" y="434.35" text-anchor="end" font-family="Liberation Sans, sans-serif" font-size="8.8" style="stroke-width:0.32px" textLength="11.4" lengthAdjust="spacingAndGlyphs" fill="#0a0a0a">0.3</text>
<path d="M522 419.5 H527" stroke="#1c1c1c" stroke-width="1" shape-rendering="crispEdges"/>
<text x="517.9" y="422.15" text-anchor="end" font-family="Liberation Sans, sans-serif" font-size="8.8" style="stroke-width:0.32px" textLength="11.4" lengthAdjust="spacingAndGlyphs" fill="#0a0a0a">0.4</text>
<path d="M534.5 475 V480" stroke="#1c1c1c" stroke-width="1" shape-rendering="crispEdges"/>
<text x="534.6" y="491" text-anchor="middle" font-family="Liberation Sans, sans-serif" font-size="10" fill="#0a0a0a">0</text>
<path d="M543.5 475 V480" stroke="#1c1c1c" stroke-width="1" shape-rendering="crispEdges"/>
<path d="M553.5 475 V480" stroke="#1c1c1c" stroke-width="1" shape-rendering="crispEdges"/>
<path d="M562.5 475 V480" stroke="#1c1c1c" stroke-width="1" shape-rendering="crispEdges"/>
<text x="562.6" y="491" text-anchor="middle" font-family="Liberation Sans, sans-serif" font-size="10" fill="#0a0a0a">3</text>
<path d="M571.5 475 V480" stroke="#1c1c1c" stroke-width="1" shape-rendering="crispEdges"/>
<path d="M581.5 475 V480" stroke="#1c1c1c" stroke-width="1" shape-rendering="crispEdges"/>
<path d="M590.5 475 V480" stroke="#1c1c1c" stroke-width="1" shape-rendering="crispEdges"/>
<text x="590.6" y="491" text-anchor="middle" font-family="Liberation Sans, sans-serif" font-size="10" fill="#0a0a0a">6</text>
<path d="M600.5 475 V480" stroke="#1c1c1c" stroke-width="1" shape-rendering="crispEdges"/>
<path d="M609.5 475 V480" stroke="#1c1c1c" stroke-width="1" shape-rendering="crispEdges"/>
<path d="M619.5 475 V480" stroke="#1c1c1c" stroke-width="1" shape-rendering="crispEdges"/>
<text x="619.6" y="491" text-anchor="middle" font-family="Liberation Sans, sans-serif" font-size="10" fill="#0a0a0a">9</text>
<path d="M628.5 475 V480" stroke="#1c1c1c" stroke-width="1" shape-rendering="crispEdges"/>
<path d="M637.5 475 V480" stroke="#1c1c1c" stroke-width="1" shape-rendering="crispEdges"/>
<path d="M647.5 475 V480" stroke="#1c1c1c" stroke-width="1" shape-rendering="crispEdges"/>
<text x="647.6" y="491" text-anchor="middle" font-family="Liberation Sans, sans-serif" font-size="10" fill="#0a0a0a">12</text>
<path d="M656.5 475 V480" stroke="#1c1c1c" stroke-width="1" shape-rendering="crispEdges"/>
<path d="M666.5 475 V480" stroke="#1c1c1c" stroke-width="1" shape-rendering="crispEdges"/>
<path d="M675.5 475 V480" stroke="#1c1c1c" stroke-width="1" shape-rendering="crispEdges"/>
<text x="675.6" y="491" text-anchor="middle" font-family="Liberation Sans, sans-serif" font-size="10" fill="#0a0a0a">15</text>
<path d="M685.5 475 V480" stroke="#1c1c1c" stroke-width="1" shape-rendering="crispEdges"/>
<path d="M694.5 475 V480" stroke="#1c1c1c" stroke-width="1" shape-rendering="crispEdges"/>
<path d="M703.5 475 V480" stroke="#1c1c1c" stroke-width="1" shape-rendering="crispEdges"/>
<text x="703.6" y="491" text-anchor="middle" font-family="Liberation Sans, sans-serif" font-size="10" fill="#0a0a0a">18</text>
<path d="M713.5 475 V480" stroke="#1c1c1c" stroke-width="1" shape-rendering="crispEdges"/>
<path d="M722.5 475 V480" stroke="#1c1c1c" stroke-width="1" shape-rendering="crispEdges"/>
<path d="M732.5 475 V480" stroke="#1c1c1c" stroke-width="1" shape-rendering="crispEdges"/>
<text x="732.6" y="491" text-anchor="middle" font-family="Liberation Sans, sans-serif" font-size="10" fill="#0a0a0a">21</text>
<path d="M741.5 475 V480" stroke="#1c1c1c" stroke-width="1" shape-rendering="crispEdges"/>
<path d="M751.5 475 V480" stroke="#1c1c1c" stroke-width="1" shape-rendering="crispEdges"/>
<path d="M760.5 475 V480" stroke="#1c1c1c" stroke-width="1" shape-rendering="crispEdges"/>
<text x="760.6" y="491" text-anchor="middle" font-family="Liberation Sans, sans-serif" font-size="10" fill="#0a0a0a">24</text>
<path d="M769.5 475 V480" stroke="#1c1c1c" stroke-width="1" shape-rendering="crispEdges"/>
<path d="M779.5 475 V480" stroke="#1c1c1c" stroke-width="1" shape-rendering="crispEdges"/>
<path d="M788.5 475 V480" stroke="#1c1c1c" stroke-width="1" shape-rendering="crispEdges"/>
<text x="788.6" y="491" text-anchor="middle" font-family="Liberation Sans, sans-serif" font-size="10" fill="#0a0a0a">27</text>
<path d="M798.5 475 V480" stroke="#1c1c1c" stroke-width="1" shape-rendering="crispEdges"/>
<path d="M807.5 475 V480" stroke="#1c1c1c" stroke-width="1" shape-rendering="crispEdges"/>
<path d="M817.5 475 V480" stroke="#1c1c1c" stroke-width="1" shape-rendering="crispEdges"/>
<text x="817.6" y="491" text-anchor="middle" font-family="Liberation Sans, sans-serif" font-size="10" fill="#0a0a0a">30</text>
<path d="M826.5 475 V480" stroke="#1c1c1c" stroke-width="1" shape-rendering="crispEdges"/>
<path d="M835.5 475 V480" stroke="#1c1c1c" stroke-width="1" shape-rendering="crispEdges"/>
<path d="M845.5 475 V480" stroke="#1c1c1c" stroke-width="1" shape-rendering="crispEdges"/>
<text x="845.6" y="491" text-anchor="middle" font-family="Liberation Sans, sans-serif" font-size="10" fill="#0a0a0a">33</text>
<path d="M854.5 475 V480" stroke="#1c1c1c" stroke-width="1" shape-rendering="crispEdges"/>
<path d="M864.5 475 V480" stroke="#1c1c1c" stroke-width="1" shape-rendering="crispEdges"/>
<path d="M873.5 475 V480" stroke="#1c1c1c" stroke-width="1" shape-rendering="crispEdges"/>
<text x="873.6" y="491" text-anchor="middle" font-family="Liberation Sans, sans-serif" font-size="10" fill="#0a0a0a">36</text>
<text x="704.7" y="503" text-anchor="middle" font-family="Liberation Sans, sans-serif" font-weight="bold" font-size="10.2" textLength="77.5" lengthAdjust="spacingAndGlyphs" fill="#0a0a0a">Months on Study</text>
<text transform="translate(493.0,395) rotate(-90) scale(0.959,1)" text-anchor="middle" font-family="Liberation Sans, sans-serif" font-weight="bold" font-size="10" fill="#0a0a0a">Results (10<tspan font-size="5.8" dy="-3.5">9</tspan><tspan dy="3.5">/l)</tspan></text>
<path d="M534.5 329 V474.5" stroke="#1c1c1c" stroke-width="1" stroke-dasharray="27.3 1.4 26.4 1.4 26.4 1.4 26.4 1.4 26.4 1.4 99 0" shape-rendering="crispEdges"/>
<path d="M647.5 329 V474.5" stroke="#1c1c1c" stroke-width="1" stroke-dasharray="27.3 1.4 26.4 1.4 26.4 1.4 26.4 1.4 26.4 1.4 99 0" shape-rendering="crispEdges"/>
<path d="M760.5 329 V474.5" stroke="#1c1c1c" stroke-width="1" stroke-dasharray="27.3 1.4 26.4 1.4 26.4 1.4 26.4 1.4 26.4 1.4 99 0" shape-rendering="crispEdges"/>
<polyline points="534.2,370.3 536.6,337.7 538.9,352.4 541.3,378.2 543.6,381.3 562.5,371.8 590.8,370.3 619.1,371.0 647.4,377.9 656.8,379.1 675.7,371.8 703.9,364.7 732.2,372.3 760.5,369.8 770.0,366.6 788.8,372.5 817.1,368.3 845.4,375.0 873.7,370.1" fill="none" stroke="#b3185f" stroke-width="1.0" stroke-dasharray="5.5 3" stroke-linejoin="round"/>
<path d="M534.2 368.6 L535.9 371.7 L532.5 371.7Z" fill="#b3185f"/><path d="M536.6 336.0 L538.3 339.1 L534.9 339.1Z" fill="#b3185f"/><path d="M538.9 350.7 L540.6 353.8 L537.2 353.8Z" fill="#b3185f"/><path d="M541.3 376.5 L543.0 379.6 L539.6 379.6Z" fill="#b3185f"/><path d="M543.6 379.6 L545.3 382.7 L541.9 382.7Z" fill="#b3185f"/><path d="M562.5 370.1 L564.2 373.2 L560.8 373.2Z" fill="#b3185f"/><path d="M590.8 368.6 L592.5 371.7 L589.1 371.7Z" fill="#b3185f"/><path d="M619.1 369.3 L620.8 372.4 L617.4 372.4Z" fill="#b3185f"/><path d="M647.4 376.2 L649.1 379.3 L645.7 379.3Z" fill="#b3185f"/><path d="M656.8 377.4 L658.5 380.5 L655.1 380.5Z" fill="#b3185f"/><path d="M675.7 370.1 L677.4 373.2 L674.0 373.2Z" fill="#b3185f"/><path d="M703.9 363.0 L705.6 366.1 L702.2 366.1Z" fill="#b3185f"/><path d="M732.2 370.6 L733.9 373.7 L730.5 373.7Z" fill="#b3185f"/><path d="M760.5 368.1 L762.2 371.2 L758.8 371.2Z" fill="#b3185f"/><path d="M770.0 364.9 L771.7 368.0 L768.2 368.0Z" fill="#b3185f"/><path d="M788.8 370.8 L790.5 373.9 L787.1 373.9Z" fill="#b3185f"/><path d="M817.1 366.6 L818.8 369.7 L815.4 369.7Z" fill="#b3185f"/><path d="M845.4 373.3 L847.1 376.4 L843.7 376.4Z" fill="#b3185f"/><path d="M873.7 368.4 L875.4 371.5 L872.0 371.5Z" fill="#b3185f"/>
<polyline points="534.2,426.0 536.6,455.5 538.9,450.5 541.3,435.6 543.6,432.1 562.5,429.2 590.8,425.5 619.1,428.0 647.4,430.7 656.8,430.7 675.7,426.7 703.9,426.3 732.2,426.0 760.5,426.3 770.0,423.6 788.8,424.3 817.1,424.8 845.4,426.7 873.7,424.3" fill="none" stroke="#b3185f" stroke-width="1.0" stroke-dasharray="5.5 3" stroke-linejoin="round"/>
<path d="M534.2 424.5 L535.7 426.0 L534.2 427.5 L532.7 426.0Z" fill="#b3185f"/><path d="M536.6 454.0 L538.1 455.5 L536.6 457.0 L535.1 455.5Z" fill="#b3185f"/><path d="M538.9 449.0 L540.4 450.5 L538.9 452.0 L537.4 450.5Z" fill="#b3185f"/><path d="M541.3 434.1 L542.8 435.6 L541.3 437.1 L539.8 435.6Z" fill="#b3185f"/><path d="M543.6 430.6 L545.1 432.1 L543.6 433.6 L542.1 432.1Z" fill="#b3185f"/><path d="M562.5 427.7 L564.0 429.2 L562.5 430.7 L561.0 429.2Z" fill="#b3185f"/><path d="M590.8 424.0 L592.3 425.5 L590.8 427.0 L589.3 425.5Z" fill="#b3185f"/><path d="M619.1 426.5 L620.6 428.0 L619.1 429.5 L617.6 428.0Z" fill="#b3185f"/><path d="M647.4 429.2 L648.9 430.7 L647.4 432.2 L645.9 430.7Z" fill="#b3185f"/><path d="M656.8 429.2 L658.3 430.7 L656.8 432.2 L655.3 430.7Z" fill="#b3185f"/><path d="M675.7 425.2 L677.2 426.7 L675.7 428.2 L674.2 426.7Z" fill="#b3185f"/><path d="M703.9 424.8 L705.4 426.3 L703.9 427.8 L702.4 426.3Z" fill="#b3185f"/><path d="M732.2 424.5 L733.7 426.0 L732.2 427.5 L730.7 426.0Z" fill="#b3185f"/><path d="M760.5 424.8 L762.0 426.3 L760.5 427.8 L759.0 426.3Z" fill="#b3185f"/><path d="M770.0 422.1 L771.5 423.6 L770.0 425.1 L768.5 423.6Z" fill="#b3185f"/><path d="M788.8 422.8 L790.3 424.3 L788.8 425.8 L787.3 424.3Z" fill="#b3185f"/><path d="M817.1 423.3 L818.6 424.8 L817.1 426.3 L815.6 424.8Z" fill="#b3185f"/><path d="M845.4 425.2 L846.9 426.7 L845.4 428.2 L843.9 426.7Z" fill="#b3185f"/><path d="M873.7 422.8 L875.2 424.3 L873.7 425.8 L872.2 424.3Z" fill="#b3185f"/>
<polyline points="534.2,453.5 536.6,468.2 538.9,466.0 541.3,461.5 543.6,457.2 562.5,455.0 590.8,453.7 619.1,453.5 647.4,452.8 656.8,455.0 675.7,453.7 703.9,451.3 732.2,450.1 760.5,449.6 770.0,452.5 788.8,453.7 817.1,452.5 845.4,451.3 873.7,448.3" fill="none" stroke="#b3185f" stroke-width="1.0" stroke-dasharray="3.5 1.4 1 1.4 1 1.4" stroke-linejoin="round"/>
<path d="M534.2 451.5 L536.2 453.5 L534.2 455.5 L532.2 453.5Z" fill="#b3185f"/><path d="M536.6 466.2 L538.6 468.2 L536.6 470.2 L534.6 468.2Z" fill="#b3185f"/><path d="M538.9 464.0 L540.9 466.0 L538.9 468.0 L536.9 466.0Z" fill="#b3185f"/><path d="M541.3 459.5 L543.3 461.5 L541.3 463.5 L539.3 461.5Z" fill="#b3185f"/><path d="M543.6 455.2 L545.6 457.2 L543.6 459.2 L541.6 457.2Z" fill="#b3185f"/><path d="M562.5 453.0 L564.5 455.0 L562.5 457.0 L560.5 455.0Z" fill="#b3185f"/><path d="M590.8 451.7 L592.8 453.7 L590.8 455.7 L588.8 453.7Z" fill="#b3185f"/><path d="M619.1 451.5 L621.1 453.5 L619.1 455.5 L617.1 453.5Z" fill="#b3185f"/><path d="M647.4 450.8 L649.4 452.8 L647.4 454.8 L645.4 452.8Z" fill="#b3185f"/><path d="M656.8 453.0 L658.8 455.0 L656.8 457.0 L654.8 455.0Z" fill="#b3185f"/><path d="M675.7 451.7 L677.7 453.7 L675.7 455.7 L673.7 453.7Z" fill="#b3185f"/><path d="M703.9 449.3 L705.9 451.3 L703.9 453.3 L701.9 451.3Z" fill="#b3185f"/><path d="M732.2 448.1 L734.2 450.1 L732.2 452.1 L730.2 450.1Z" fill="#b3185f"/><path d="M760.5 447.6 L762.5 449.6 L760.5 451.6 L758.5 449.6Z" fill="#b3185f"/><path d="M770.0 450.5 L772.0 452.5 L770.0 454.5 L768.0 452.5Z" fill="#b3185f"/><path d="M788.8 451.7 L790.8 453.7 L788.8 455.7 L786.8 453.7Z" fill="#b3185f"/><path d="M817.1 450.5 L819.1 452.5 L817.1 454.5 L815.1 452.5Z" fill="#b3185f"/><path d="M845.4 449.3 L847.4 451.3 L845.4 453.3 L843.4 451.3Z" fill="#b3185f"/><path d="M873.7 446.3 L875.7 448.3 L873.7 450.3 L871.7 448.3Z" fill="#b3185f"/>
<polyline points="534.2,459.4 536.6,467.8 538.9,463.4 541.3,463.3 543.6,463.3 562.5,462.3 590.8,461.3 619.1,460.9 647.4,459.9 656.8,463.6 675.7,460.9 703.9,460.1 732.2,456.9 760.5,458.7 770.0,458.7 788.8,458.7 817.1,459.0 845.4,458.7 873.7,458.7" fill="none" stroke="#b3185f" stroke-width="1.1" stroke-linejoin="round"/>
<rect x="532.5" y="457.7" width="3.4" height="3.4" fill="#b3185f"/><rect x="534.9" y="466.1" width="3.4" height="3.4" fill="#b3185f"/><rect x="537.2" y="461.7" width="3.4" height="3.4" fill="#b3185f"/><rect x="539.6" y="461.6" width="3.4" height="3.4" fill="#b3185f"/><rect x="541.9" y="461.6" width="3.4" height="3.4" fill="#b3185f"/><rect x="560.8" y="460.6" width="3.4" height="3.4" fill="#b3185f"/><rect x="589.1" y="459.6" width="3.4" height="3.4" fill="#b3185f"/><rect x="617.4" y="459.2" width="3.4" height="3.4" fill="#b3185f"/><rect x="645.7" y="458.2" width="3.4" height="3.4" fill="#b3185f"/><rect x="655.1" y="461.9" width="3.4" height="3.4" fill="#b3185f"/><rect x="674.0" y="459.2" width="3.4" height="3.4" fill="#b3185f"/><rect x="702.2" y="458.4" width="3.4" height="3.4" fill="#b3185f"/><rect x="730.5" y="455.2" width="3.4" height="3.4" fill="#b3185f"/><rect x="758.8" y="457.0" width="3.4" height="3.4" fill="#b3185f"/><rect x="768.2" y="457.0" width="3.4" height="3.4" fill="#b3185f"/><rect x="787.1" y="457.0" width="3.4" height="3.4" fill="#b3185f"/><rect x="815.4" y="457.3" width="3.4" height="3.4" fill="#b3185f"/><rect x="843.7" y="457.0" width="3.4" height="3.4" fill="#b3185f"/><rect x="872.0" y="457.0" width="3.4" height="3.4" fill="#b3185f"/>
<text x="885.3" y="372" font-family="Liberation Sans, sans-serif" font-size="10.2" textLength="105.2" lengthAdjust="spacingAndGlyphs" fill="#0a0a0a">Neutrophils, NR = (1.8, 7.7)</text>
<text x="885.3" y="426" font-family="Liberation Sans, sans-serif" font-size="10.2" textLength="96.0" lengthAdjust="spacingAndGlyphs" fill="#0a0a0a">Monocytes, NR = (0, 0.8)</text>
<text x="885.3" y="450" font-family="Liberation Sans, sans-serif" font-size="10.2" textLength="98.2" lengthAdjust="spacingAndGlyphs" fill="#0a0a0a">Eosinophils, NR = (0, 0.5)</text>
<text x="885.3" y="462" font-family="Liberation Sans, sans-serif" font-size="10.2" textLength="91.4" lengthAdjust="spacingAndGlyphs" fill="#0a0a0a">Basophils, NR = (0, 0.2)</text>
</svg>
<div id="title">Figure 2: Effects of alemtuzumab on median lymphocyte and leukocyte counts over 36 months in the CAMMS223 Phase II study</div>
<div id="cap"><div class="l">Alemtuzumab rapidly depleted the circulating T- and B-lymphocyte subsets studied (CD4, CD8 and CD19) after each treatment course. CD4 (A) and CD8 (B) T cells</div><div class="l">reconstituted gradually after each treatment course without reaching baseline values. Median B-cell values returned to baseline and remained within normal ranges</div><div class="l">6 months after each treatment course (C). Circulating monocyte, eosinophil, and basophil cell counts were minimally or transiently affected after each treatment</div><div class="l">course. The mean number of circulating neutrophil cells initially increased (while remaining within normal limits), but normalized within 4 weeks (D). NR=normal</div><div class="l last">range; vertical reference lines represent alemtuzumab dosing; grey, horizontal lines represent the lower limit of normal. (Data from Coles et al. [36]).</div></div>
</body></html>
